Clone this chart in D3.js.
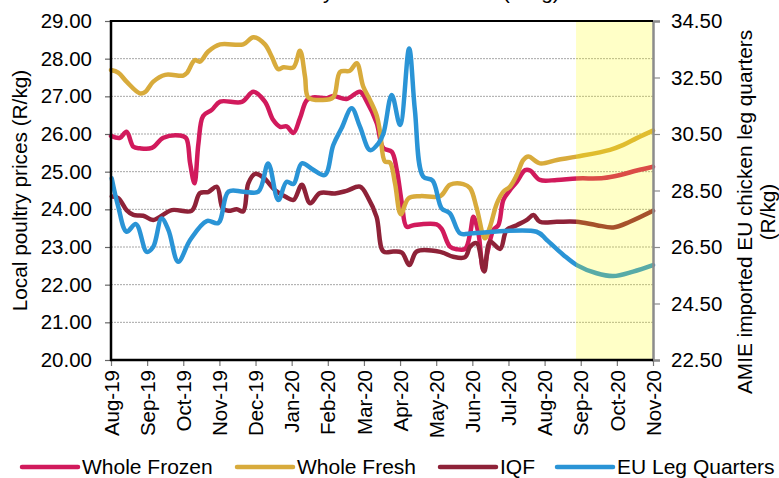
<!DOCTYPE html>
<html><head><meta charset="utf-8">
<script src="https://cdn.jsdelivr.net/npm/d3@7"></script>
<style>
html,body{margin:0;padding:0;background:#fff;}
svg{display:block;font-family:"Liberation Sans",Arial,sans-serif;}
</style></head>
<body><svg id="chart" width="779" height="478"></svg>
<script>
// ---- data (x = months since Aug-19) ----
const monthLabels = ["Aug-19","Sep-19","Oct-19","Nov-19","Dec-19","Jan-20","Feb-20","Mar-20","Apr-20","May-20","Jun-20","Jul-20","Aug-20","Sep-20","Oct-20","Nov-20"];
const leftTicks = [20,21,22,23,24,25,26,27,28,29];
const rightTicks = [22.5,24.5,26.5,28.5,30.5,32.5,34.5];
const forecastStart = 12.87;

const wholeFrozen = [[0,25.95],[0.25,25.90],[0.43,26.06],[0.62,25.66],[0.80,25.62],[1.13,25.63],[1.45,25.90],[1.91,25.96],[2.08,25.89],[2.19,25.22],[2.31,24.69],[2.42,25.75],[2.55,26.48],[2.79,26.64],[3.02,26.86],[3.62,26.85],[3.94,27.12],[4.26,26.86],[4.49,26.37],[4.68,26.19],[4.86,26.20],[5.05,26.03],[5.23,26.42],[5.42,26.90],[5.60,26.97],[5.97,26.95],[6.15,27.01],[6.52,26.93],[6.89,27.12],[7.08,26.86],[7.35,26.30],[7.54,25.62],[7.77,25.53],[7.91,25.04],[8.05,24.16],[8.18,23.54],[8.37,23.58],[9.01,23.60],[9.15,23.48],[9.38,23.01],[9.57,22.94],[9.80,22.95],[9.94,23.36],[10.03,23.80],[10.17,23.36],[10.30,22.39],[10.44,22.95],[10.58,23.45],[10.72,23.58],[10.86,24.25],[11.04,24.51],[11.23,24.73],[11.46,25.04],[11.60,25.03],[11.87,24.78],[12.34,24.78],[12.89,24.82],[13.63,24.83],[14.09,24.91],[14.55,25.03],[15,25.13]];
const wholeFresh = [[0,27.70],[0.2,27.63],[0.43,27.39],[0.8,27.08],[0.95,27.12],[1.17,27.39],[1.5,27.57],[2.0,27.55],[2.1,27.62],[2.32,27.96],[2.46,27.92],[2.69,28.19],[3.02,28.38],[3.66,28.38],[3.94,28.57],[4.26,28.38],[4.45,28.05],[4.63,27.72],[4.77,27.77],[5.05,27.77],[5.23,28.21],[5.37,27.52],[5.46,26.97],[5.83,26.90],[6.15,26.97],[6.34,27.65],[6.61,27.68],[6.80,27.88],[6.98,27.26],[7.17,26.9],[7.35,26.5],[7.45,26.03],[7.58,25.27],[7.72,25.24],[7.86,24.69],[8.02,23.87],[8.23,24.29],[8.56,24.35],[9.11,24.35],[9.38,24.65],[9.75,24.67],[9.94,24.56],[10.12,24.03],[10.35,23.23],[10.49,23.54],[10.68,24.16],[10.86,24.47],[11.04,24.60],[11.23,24.91],[11.41,25.31],[11.55,25.40],[11.87,25.22],[12.34,25.31],[12.89,25.40],[13.81,25.58],[14.18,25.71],[14.55,25.89],[15,26.09]];
const iqf = [[0.02,24.34],[0.2,24.30],[0.43,23.98],[0.62,23.85],[0.89,23.83],[1.17,23.72],[1.68,23.98],[2.23,23.96],[2.46,24.43],[2.69,24.46],[2.93,24.60],[3.09,24.03],[3.25,23.96],[3.48,24.00],[3.66,23.95],[3.80,24.69],[3.99,24.94],[4.22,24.84],[4.54,24.51],[4.82,24.34],[5.05,24.25],[5.28,24.65],[5.51,24.16],[5.78,24.43],[6.20,24.42],[6.52,24.49],[6.89,24.60],[7.12,24.30],[7.35,23.80],[7.54,22.88],[7.82,22.88],[8.05,22.85],[8.26,22.52],[8.46,22.88],[9.11,22.87],[9.47,22.74],[9.80,22.73],[9.94,23.01],[10.12,23.10],[10.33,22.35],[10.49,23.14],[10.77,22.95],[10.95,23.45],[11.23,23.58],[11.51,23.72],[11.69,23.85],[11.87,23.67],[12.34,23.67],[12.89,23.67],[13.44,23.58],[13.90,23.52],[14.36,23.67],[15,23.96]];
const euLegQuarters = [[0.02,28.93],[0.2,27.93],[0.43,27.04],[0.69,27.31],[0.99,26.33],[1.17,26.51],[1.40,27.51],[1.59,27.10],[1.86,25.98],[2.19,26.75],[2.65,27.42],[2.97,27.35],[3.25,28.46],[3.66,28.46],[4.08,28.46],[4.35,29.46],[4.63,28.16],[4.86,28.81],[5.05,28.73],[5.28,29.46],[5.60,29.23],[5.92,29.05],[6.15,30.1],[6.38,30.70],[6.66,31.41],[6.89,30.76],[7.17,29.93],[7.40,30.17],[7.54,30.52],[7.77,31.88],[8.0,30.82],[8.25,33.53],[8.41,31.35],[8.64,28.99],[8.9,28.85],[9.15,27.87],[9.38,27.69],[9.66,26.98],[9.94,26.98],[11.78,27.04],[12.06,26.75],[12.52,26.22],[12.89,25.86],[13.44,25.57],[13.90,25.47],[14.45,25.63],[15,25.86]];

const seriesNames = ["Whole Frozen","Whole Fresh","IQF","EU Leg Quarters"];
const seriesColors = ["#d11a5c","#d8ab3c","#8e2238","#2a94d6"];

// ---- layout ----
const svg = d3.select("#chart");
const L = 111, R = 653, T = 21, B = 360;
const TICKFONT = 20.5, TITLEFONT = 20.8, LEGENDFONT = 21;

const x = d3.scaleLinear().domain([0, 15]).range([L, R]);
const yL = d3.scaleLinear().domain([20, 29]).range([B, T]);
const yR = d3.scaleLinear().domain([22.5, 34.5]).range([B, T]);

// title (cut off at top edge in the reference)
svg.append("text").attr("x", 369).attr("y", -1).attr("text-anchor", "middle")
  .attr("font-size", 21).attr("fill", "#000").text("Chicken industry wholesale trends (R/kg)");

// gridlines
svg.append("g").selectAll("line").data(leftTicks.filter(d => d > 20 && d < 29)).join("line")
  .attr("x1", L).attr("x2", R).attr("y1", d => yL(d)).attr("y2", d => yL(d))
  .attr("stroke", "#a6a6a6").attr("stroke-width", 1).attr("stroke-dasharray", "2,1");

// lines
const line = d3.line().x(d => x(d[0])).curve(d3.curveCatmullRom.alpha(0.5));
const allSeries = [
  {data: wholeFrozen, y: yL, color: seriesColors[0]},
  {data: wholeFresh, y: yL, color: seriesColors[1]},
  {data: iqf, y: yL, color: seriesColors[2]},
  {data: euLegQuarters, y: yR, color: seriesColors[3]}
];
allSeries.forEach(s => {
  svg.append("path").datum(s.data)
    .attr("d", line.y(d => s.y(d[1])))
    .attr("fill", "none").attr("stroke", s.color).attr("stroke-width", 4.5)
    .attr("stroke-linejoin", "round").attr("stroke-linecap", "round");
});

// forecast band (translucent yellow over lines)
svg.append("rect").attr("x", x(forecastStart)).attr("y", T)
  .attr("width", x(15) - x(forecastStart)).attr("height", B - T)
  .attr("fill", "#ffff00").attr("fill-opacity", 0.22);

// left axis
const gL = svg.append("g").attr("transform", `translate(${L},0)`)
  .call(d3.axisLeft(yL).tickValues(leftTicks).tickFormat(d3.format(".2f")).tickSize(6).tickPadding(13));
gL.select(".domain").remove();
gL.selectAll(".tick line").attr("stroke", "#666").attr("stroke-width", 1.2);
gL.selectAll("text").attr("font-size", TICKFONT).attr("fill", "#000").attr("font-family", "Liberation Sans, Arial, sans-serif");

// right axis
const gR = svg.append("g").attr("transform", `translate(${R},0)`)
  .call(d3.axisRight(yR).tickValues(rightTicks).tickFormat(d3.format(".2f")).tickSize(7).tickPadding(11));
gR.select(".domain").attr("stroke", "#8c8c8c").attr("stroke-width", 2.5);
gR.selectAll(".tick line").attr("stroke", "#8c8c8c").attr("stroke-width", 1.2);
gR.selectAll("text").attr("font-size", TICKFONT).attr("fill", "#000").attr("font-family", "Liberation Sans, Arial, sans-serif");

// bottom axis
const gB = svg.append("g").attr("transform", `translate(0,${B})`)
  .call(d3.axisBottom(x).tickValues(d3.range(0, 16)).tickFormat(i => monthLabels[i]).tickSize(6));
gB.select(".domain").remove();
gB.selectAll(".tick line").attr("stroke", "#777").attr("stroke-width", 1.2);
gB.selectAll("text").attr("font-size", TICKFONT).attr("fill", "#000").attr("font-family", "Liberation Sans, Arial, sans-serif")
  .attr("transform", "rotate(-90)").attr("text-anchor", "end").attr("x", -10).attr("y", 0).attr("dy", "0.35em");

// frame: top, left, bottom black lines
svg.append("line").attr("x1", L).attr("x2", R).attr("y1", T).attr("y2", T).attr("stroke", "#000").attr("stroke-width", 2);
svg.append("line").attr("x1", L).attr("x2", L).attr("y1", T - 1).attr("y2", B + 1).attr("stroke", "#000").attr("stroke-width", 2.5);
svg.append("line").attr("x1", L - 1).attr("x2", R).attr("y1", B).attr("y2", B).attr("stroke", "#000").attr("stroke-width", 2.5);

// axis titles
svg.append("text").attr("transform", `translate(27,${(T + B) / 2}) rotate(-90)`)
  .attr("text-anchor", "middle").attr("font-size", TITLEFONT).text("Local poultry prices (R/kg)");
const rt = svg.append("text").attr("transform", `translate(752,212) rotate(-90)`)
  .attr("text-anchor", "middle").attr("font-size", TITLEFONT);
rt.append("tspan").attr("x", 0).attr("dy", 0).text("AMIE imported EU chicken leg quarters");
rt.append("tspan").attr("x", 0).attr("dy", "1.1em").text("(R/kg)");

// legend
const legendX = [22, 237, 440, 557];
const lg = svg.append("g").selectAll("g").data(seriesNames).join("g")
  .attr("transform", (d, i) => `translate(${legendX[i]},467)`);
lg.append("line").attr("x1", 0).attr("x2", 56).attr("y1", 0).attr("y2", 0)
  .attr("stroke", (d, i) => seriesColors[i]).attr("stroke-width", 4.5).attr("stroke-linecap", "round");
lg.append("text").attr("x", 60).attr("y", 0).attr("dy", "0.35em").attr("font-size", LEGENDFONT).text(d => d);
</script></body></html>
